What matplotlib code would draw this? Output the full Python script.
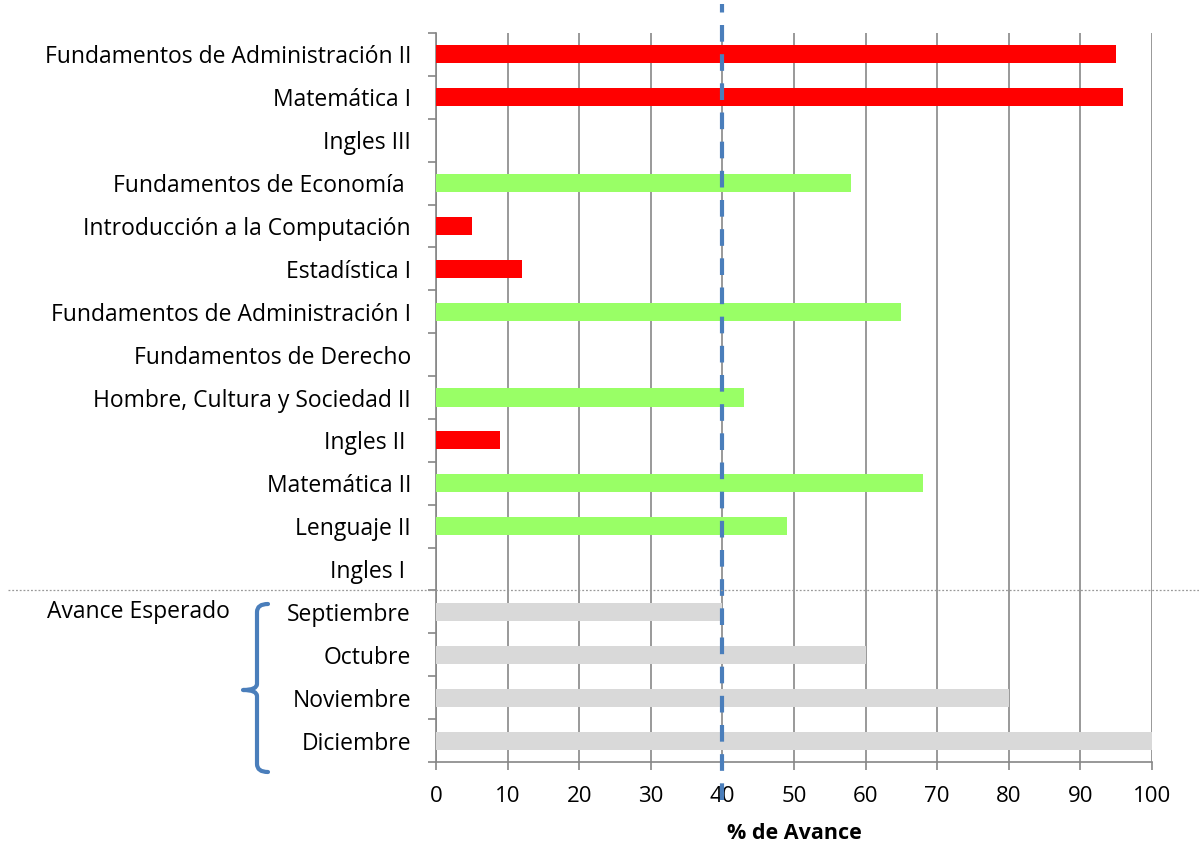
import matplotlib.pyplot as plt
from matplotlib.path import Path
from matplotlib.patches import PathPatch
from matplotlib.ticker import FixedLocator

plt.rcParams['font.family'] = ['Open Sans', 'DejaVu Sans']

# asignaturas (de arriba hacia abajo) y % de avance
asignaturas = [
    'Fundamentos de Administración II', 'Matemática I', 'Ingles III',
    'Fundamentos de Economía ', 'Introducción a la Computación', 'Estadística I',
    'Fundamentos de Administración I', 'Fundamentos de Derecho',
    'Hombre, Cultura y Sociedad II', 'Ingles II ', 'Matemática II',
    'Lenguaje II', 'Ingles I ',
]
avance = [95, 96, 0, 58, 5, 12, 65, 0, 43, 9, 68, 49, 0]
estado = ['atrasado', 'atrasado', 'atrasado', 'ok', 'atrasado', 'atrasado', 'ok',
          'atrasado', 'ok', 'atrasado', 'ok', 'ok', 'atrasado']

meses = ['Septiembre', 'Octubre', 'Noviembre', 'Diciembre']
avance_esperado = [40, 60, 80, 100]

mes_actual = 40

colores_estado = {'atrasado': '#FF0000', 'ok': '#99FF66'}

labels = asignaturas + meses
valores = avance + avance_esperado
colores = [colores_estado[e] for e in estado] + ['#D9D9D9'] * len(meses)

W, H = 1199, 846
fig = plt.figure(figsize=(W / 100, H / 100), dpi=100)
ax = fig.add_axes([436 / W, 1 - 762 / H, (1152 - 436) / W, (762 - 33) / H])

pos = list(range(len(labels)))
ax.barh(pos, valores, height=0.42, color=colores, zorder=3)

ax.set_xlim(0, 100)
ax.set_ylim(len(labels) - 0.5, -0.5)
ax.set_xticks(range(0, 101, 10))
ax.set_yticks(pos)
ax.set_yticklabels(labels)
ax.yaxis.set_minor_locator(FixedLocator([p - 0.5 for p in pos] + [len(labels) - 0.5]))

ax.tick_params(axis='y', which='major', length=0, pad=18, labelsize=16.5)
ax.tick_params(axis='y', which='minor', length=6, width=1.2, color='#868686')
ax.tick_params(axis='x', length=6, width=1.2, color='#868686', pad=11, labelsize=16)

ax.xaxis.grid(True, color='#999999', linewidth=1.4, zorder=0)
ax.set_axisbelow(True)
for s in ['top', 'right']:
    ax.spines[s].set_visible(False)
for s in ['left', 'bottom']:
    ax.spines[s].set_color('#868686')
    ax.spines[s].set_linewidth(1.2)

ax.set_xlabel('% de Avance', fontsize=15.5, fontweight='bold', labelpad=12)

# linea del mes actual
ax.axvline(mes_actual, ymin=-0.052, ymax=1.04, color='#4A7EBB', linewidth=3,
           linestyle=(0, (4, 3)), clip_on=False, zorder=5)

# separador punteado
fig.add_artist(plt.Line2D([8 / W, 1], [1 - 590 / H, 1 - 590 / H], color='#999999',
                          linewidth=0.9, linestyle=(0, (1.5, 1.5))))

# llave de "Avance Esperado"
pts = [(268, 604), (257, 604), (257, 612), (257, 684), (257, 690), (243, 690),
       (257, 690), (257, 696), (257, 764), (257, 772), (268, 772)]
codes = [Path.MOVETO, Path.CURVE3, Path.CURVE3, Path.LINETO, Path.CURVE3, Path.CURVE3,
         Path.CURVE3, Path.CURVE3, Path.LINETO, Path.CURVE3, Path.CURVE3]
verts = [(x / W, 1 - y / H) for x, y in pts]
fig.add_artist(PathPatch(Path(verts, codes), fill=False, edgecolor='#4A7EBB',
                         linewidth=3, joinstyle='round', capstyle='round',
                         transform=fig.transFigure))

fig.text(47 / W, 1 - 612 / H, 'Avance Esperado', fontsize=16.5, va='center', ha='left')

fig.savefig('out.png', dpi=100)
